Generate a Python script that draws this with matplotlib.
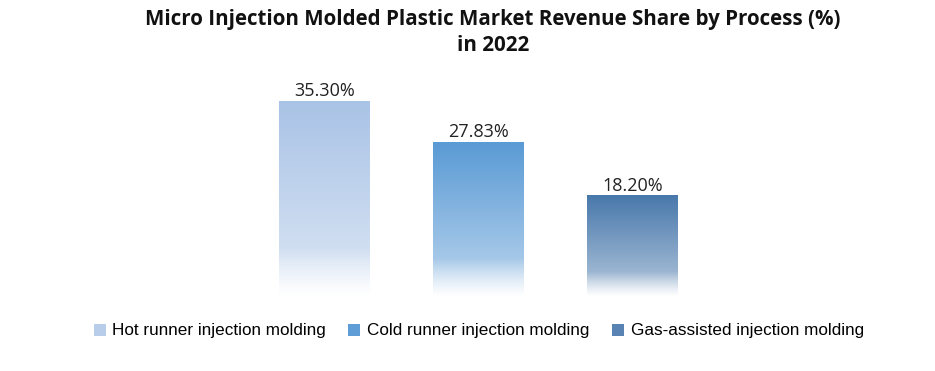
import numpy as np
import matplotlib
matplotlib.use("Agg")
import matplotlib.pyplot as plt
from matplotlib.patches import Patch
from matplotlib.colors import to_rgb

categories = ["Hot runner injection molding", "Cold runner injection molding", "Gas-assisted injection molding"]
values = [35.30, 27.83, 18.20]
labels = ["35.30%", "27.83%", "18.20%"]
top_colors = ["#A9C3E6", "#5A9AD5", "#4878AB"]
legend_colors = ["#B8CDEA", "#5F9DD6", "#5883B3"]

fig = plt.figure(figsize=(9.35, 3.71), dpi=100)
W, H = 935, 371
left_px, right_px = 170.5, 786.5
base_px, top_px = 297, 75
ax = fig.add_axes([left_px / W, (H - base_px) / H, (right_px - left_px) / W, (base_px - top_px) / H])
ax.set_xlim(-1, 3)
ax.set_ylim(0, 40)
ax.axis("off")

x = np.arange(len(values))
bars = ax.bar(x, values, width=0.59, facecolor="none", edgecolor="none")

# gradient profile: t=0 bottom, t=1 top
t = np.linspace(0, 1, 400)
a = np.where(t < 0.25, 0.55 * (t / 0.25) ** 1.3, 0.55 + 0.45 * (t - 0.25) / 0.75)
for b, c in zip(bars, top_colors):
    rgb = np.array(to_rgb(c))
    img = (1 - a)[:, None] * np.ones(3)[None, :] + a[:, None] * rgb[None, :]
    img = img[::-1][:, None, :]
    x0, w, h = b.get_x(), b.get_width(), b.get_height()
    ax.imshow(img, extent=[x0, x0 + w, 0, h], aspect="auto", interpolation="bilinear", zorder=2)

for b, lab in zip(bars, labels):
    ax.text(b.get_x() + b.get_width() / 2, b.get_height() + 0.25, lab,
            ha="center", va="bottom", fontsize=13, family=["Open Sans", "DejaVu Sans"], color="#222222")

ax.set_xlim(-1, 3)
ax.set_ylim(0, 40)

fig.text(0.527, 0.975, "Micro Injection Molded Plastic Market Revenue Share by Process (%)\nin 2022",
         ha="center", va="top", fontsize=14.8, fontweight="bold", family=["Open Sans", "DejaVu Sans"],
         linespacing=1.3, color="#111111")

handles = [Patch(facecolor=c, edgecolor="none") for c in legend_colors]
fig.legend(handles, categories, loc="center", bbox_to_anchor=(0.512, 1 - 331 / H), ncol=3,
           frameon=False, handlelength=0.7, handleheight=0.7, handletextpad=0.4,
           columnspacing=1.3, prop={"family": ["Liberation Sans", "DejaVu Sans"], "size": 12.3})

fig.savefig("out.png", dpi=100, facecolor="white")
